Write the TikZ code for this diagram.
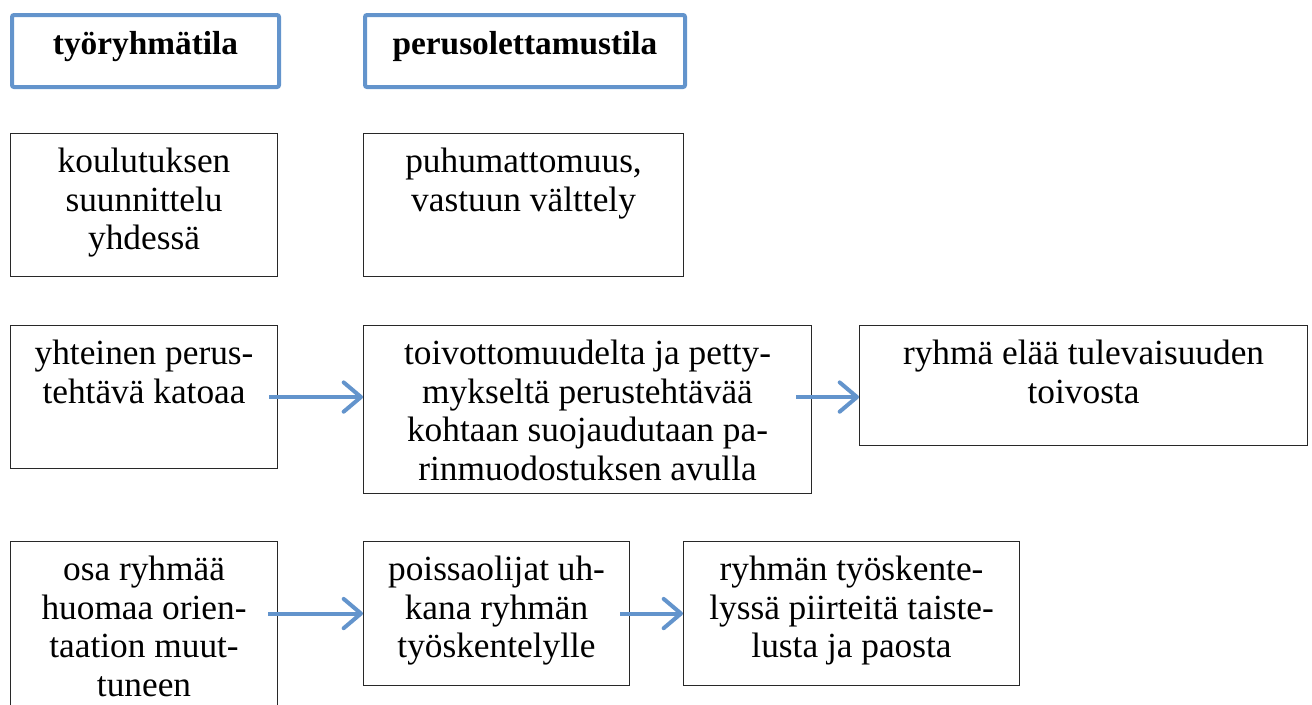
\documentclass[tikz,border=0pt]{standalone}
\usepackage{fontspec}
\setmainfont{Liberation Serif}
\usepackage{xcolor}
\definecolor{accent}{RGB}{99,148,204}
\definecolor{boxline}{RGB}{40,40,40}
\usetikzlibrary{calc}
\usetikzlibrary{arrows.meta}
\newlength\px
\setlength\px{0.75pt}
\newcommand{\celltext}[3]{\parbox[c][#2\px][t]{#1\px}{\centering\rule{0pt}{39\px}#3}}

\begin{document}
\begin{tikzpicture}[x=0.75pt,y=-0.75pt]
    \tikzstyle{every node}=[font=\fontsize{26.5}{29}\selectfont, inner sep=0pt, anchor=north west]
    \tikzstyle{head}=[draw=accent, line width=3pt, rounded corners=1.5pt, font=\fontsize{25}{29}\selectfont\bfseries]
    \tikzstyle{cell}=[draw=boxline, line width=0.8pt]
    \tikzstyle{flow}=[draw=accent, line width=3pt, -{Straight Barb[round,length=13pt,width=22pt]}]
    \useasboundingbox (0,0) rectangle (1312,704);

    % column heads
    \node[head] (tyo) at (10,13) {\celltext{267}{72}{työryhmätila}};
    \node[head] (perus) at (363,13) {\celltext{320}{72}{perusolettamustila}};

    % first row
    \node[cell] (A) at (10,133) {\celltext{267}{143}{koulutuksen\\suunnittelu\\yhdessä}};
    \node[cell] (B) at (363,133) {\celltext{320}{143}{puhumattomuus,\\vastuun välttely}};

    % second row
    \node[cell] (C) at (10,325) {\celltext{267}{143}{yhteinen perus-\\tehtävä katoaa}};
    \node[cell] (D) at (363,325) {\celltext{448}{168}{toivottomuudelta ja petty-\\mykseltä perustehtävää\\kohtaan suojaudutaan pa-\\rinmuodostuksen avulla}};
    \node[cell] (E) at (859,325) {\celltext{448}{120}{ryhmä elää tulevaisuuden\\toivosta}};

    \draw[flow] ($(C.east)+(-9,0)$) -- (C.east -| D.west);
    \draw[flow] ($(D.east |- C.east)+(-16,0)$) -- (E.west |- C.east);

    % third row
    \node[cell] (F) at (10,541) {\celltext{267}{183}{osa ryhmää\\huomaa orien-\\taation muut-\\tuneen}};
    \node[cell] (G) at (363,541) {\celltext{266}{144}{poissaolijat uh-\\kana ryhmän\\työskentelylle}};
    \node[cell] (H) at (683,541) {\celltext{336}{144}{ryhmän työskente-\\lyssä piirteitä taiste-\\lusta ja paosta}};

    \draw[flow] ($(F.east |- G.west)+(-10,0)$) -- (G.west);
    \draw[flow] ($(G.east)+(-10,0)$) -- (H.west);
\end{tikzpicture}
\end{document}
